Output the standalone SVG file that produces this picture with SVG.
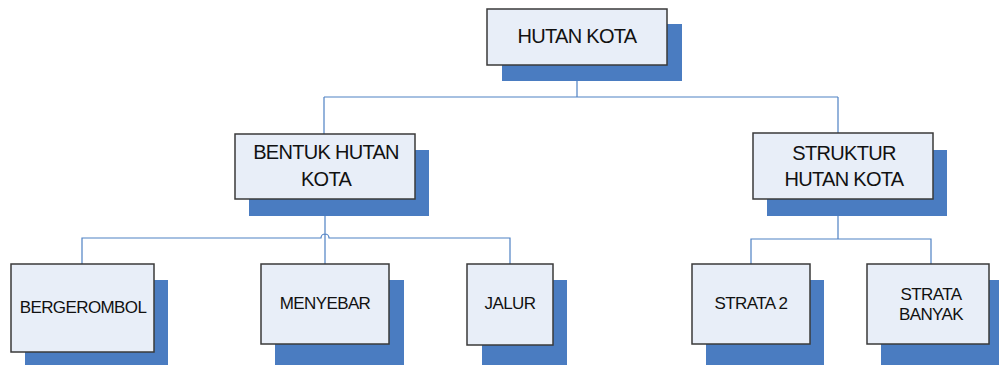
<svg xmlns="http://www.w3.org/2000/svg" width="999" height="365" viewBox="0 0 999 365">
<style>
.sh{fill:#4a7cc1}
.bx{fill:#e8eef8;stroke:#3a3a3a;stroke-width:1.5}
.t{font-family:"Liberation Sans",Arial,sans-serif;fill:#111;text-anchor:middle}
.l{font-size:20px;letter-spacing:-0.7px}
.s{font-size:17px;letter-spacing:-0.6px}
.c{fill:none;stroke:#4f81c4;stroke-width:1.2}
</style>
<rect width="999" height="365" fill="#fff"/>
<g id="connectors">
<path class="c" d="M577 65V97M324 97H838M324 97V134M838 97V133"/>
<path class="c" d="M325 199V264M82 264V238H321A4 4 0 0 1 329 238H510V264"/>
<path class="c" d="M838 216V239M751 264V239H931V264"/>
</g>
<g id="hutan-kota">
<rect class="sh" x="502" y="24" width="180" height="57"/>
<rect class="bx" x="487" y="9" width="180" height="56"/>
<text class="t l" x="577" y="43">HUTAN KOTA</text>
</g>
<g id="bentuk">
<rect class="sh" x="249" y="150" width="180" height="66"/>
<rect class="bx" x="235" y="134" width="180" height="65"/>
<text class="t l" x="326" y="159">BENTUK HUTAN</text>
<text class="t l" x="326" y="186">KOTA</text>
</g>
<g id="struktur">
<rect class="sh" x="767" y="150" width="180" height="66"/>
<rect class="bx" x="753" y="133" width="180" height="66"/>
<text class="t l" x="844" y="160">STRUKTUR</text>
<text class="t l" x="844" y="186">HUTAN KOTA</text>
</g>
<g id="bergerombol">
<rect class="sh" x="25" y="280" width="143" height="85"/>
<rect class="bx" x="11" y="264" width="143" height="88"/>
<text class="t s" x="83" y="313">BERGEROMBOL</text>
</g>
<g id="menyebar">
<rect class="sh" x="275" y="280" width="129" height="85"/>
<rect class="bx" x="261" y="264" width="128" height="80"/>
<text class="t s" x="325" y="309">MENYEBAR</text>
</g>
<g id="jalur">
<rect class="sh" x="482" y="280" width="85" height="85"/>
<rect class="bx" x="467" y="264" width="86" height="81"/>
<text class="t s" x="510" y="309">JALUR</text>
</g>
<g id="strata2">
<rect class="sh" x="706" y="280" width="118" height="85"/>
<rect class="bx" x="692" y="264" width="118" height="80"/>
<text class="t s" x="751" y="309">STRATA 2</text>
</g>
<g id="strata-banyak">
<rect class="sh" x="881" y="280" width="118" height="85"/>
<rect class="bx" x="867" y="264" width="122" height="80"/>
<text class="t s" x="931" y="300">STRATA</text>
<text class="t s" x="931" y="320">BANYAK</text>
</g>
</svg>
